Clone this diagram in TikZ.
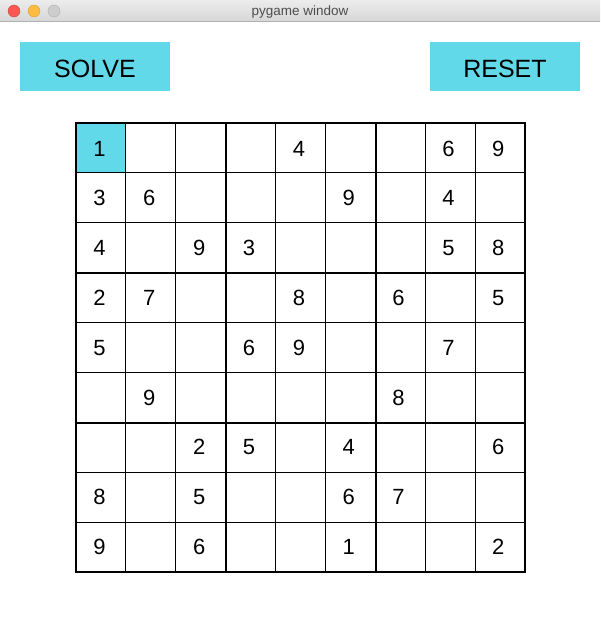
\documentclass[tikz,border=0pt]{standalone}
\usepackage{fontspec}
\setmainfont{Liberation Sans}
\definecolor{btn}{RGB}{97,217,232}
\definecolor{tbtop}{RGB}{236,236,236}
\definecolor{tbbot}{RGB}{214,214,214}
\definecolor{tbline}{RGB}{176,176,176}
\definecolor{tltext}{RGB}{77,77,77}
\definecolor{lred}{RGB}{252,87,83}
\definecolor{lyel}{RGB}{253,188,64}
\definecolor{lgray}{RGB}{205,205,205}
\begin{document}
\begin{tikzpicture}[x=1pt,y=-1pt,
  button/.style={fill=btn, draw=none, minimum width=150pt, minimum height=49pt, inner sep=0pt},
  btntext/.style={font=\fontsize{25}{25}\selectfont, anchor=base, inner sep=0pt},
  digit/.style={font=\fontsize{22}{22}\selectfont, anchor=base, inner sep=0pt},
  thin/.style={line width=1pt, black},
  thick/.style={line width=2pt, black},
  light/.style={circle, minimum size=12pt, inner sep=0pt}]
\useasboundingbox (0,0) rectangle (600,621);
\fill[white] (0,0) rectangle (600,621);
% title bar
\shade[top color=tbtop, bottom color=tbbot] (0,0) rectangle (600,21.5);
\draw[tbline, line width=1pt] (0,21.5) -- (600,21.5);
\node[light, fill=lred, draw=lred!80!black, line width=0.4pt] (lr) at (14,11) {};
\node[light, fill=lyel, draw=lyel!85!black, line width=0.4pt] (ly) at (34,11) {};
\node[light, fill=lgray, draw=lgray!85!black, line width=0.4pt] (lg) at (54,11) {};
\node[font=\fontsize{13.5}{13.5}\selectfont, text=tltext, anchor=base, inner sep=0pt] (title) at (300,15.5) {pygame window};
% buttons
\node[button] (solve) at (95,66.5) {};
\node[btntext] (solvet) at (95,77) {SOLVE};
\node[button] (reset) at (505,66.5) {};
\node[btntext] (resett) at (505,77.5) {RESET};
% highlighted cell
\fill[btn] (76,123) rectangle (125.5,172.5);
% grid lines
\foreach \k in {1,2,4,5,7,8} {
  \draw[thin] (75.5+50*\k,123) -- (75.5+50*\k,572);
  \draw[thin] (76,122.5+50*\k) -- (525,122.5+50*\k);
}
\foreach \k in {226,376} {
  \draw[thick] (\k,123) -- (\k,572);
}
\foreach \k in {273,423} {
  \draw[thick] (76,\k) -- (525,\k);
}
\draw[thick] (76,123) rectangle (525,572);
% digits
\foreach \row [count=\r from 0] in {
  {1,,,,4,,,6,9},
  {3,6,,,,9,,4,},
  {4,,9,3,,,,5,8},
  {2,7,,,8,,6,,5},
  {5,,,6,9,,,7,},
  {,9,,,,,8,,},
  {,,2,5,,4,,,6},
  {8,,5,,,6,7,,},
  {9,,6,,,1,,,2}} {
  \foreach \d [count=\c from 0] in \row {
    \node[digit] (d\r-\c) at (99.5+49.85*\c,156+49.8*\r) {\d};
  }
}
\end{tikzpicture}
\end{document}
